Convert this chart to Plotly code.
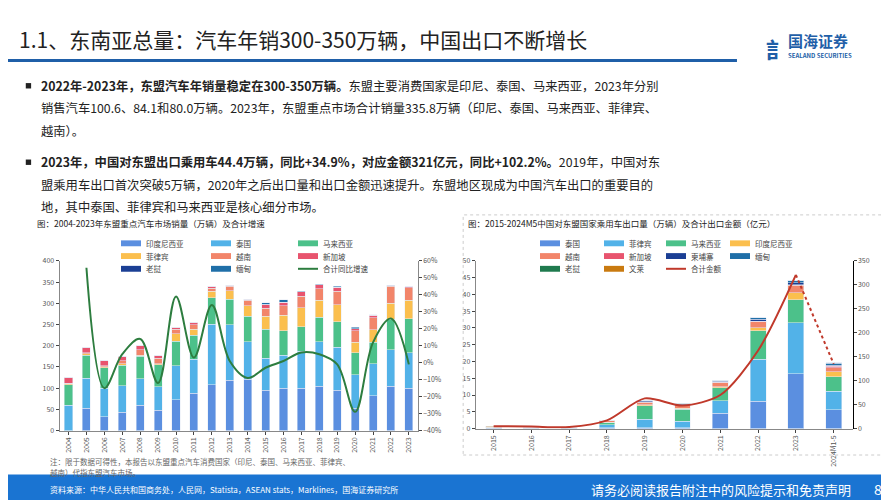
import plotly.graph_objects as go

# ---- left chart: ASEAN car sales (10k units) ----
years_l = [str(y) for y in range(2004, 2024)]
idn = [0, 53, 32, 43, 60, 48, 73, 88, 108, 118, 121, 95, 100, 100, 105, 95, 53, 82, 105, 100]
tha = [60, 70, 68, 63, 62, 55, 80, 80, 143, 132, 88, 75, 77, 87, 104, 101, 79, 76, 85, 84]
mys = [48, 55, 48, 48, 53, 52, 58, 57, 62, 60, 60, 69, 58, 58, 58, 60, 52, 50, 72, 80]
phl = [2, 3, 2, 3, 3, 3, 17, 14, 15, 20, 25, 30, 37, 45, 40, 41, 24, 30, 38, 43]
vnm = [2, 3, 3, 8, 12, 12, 11, 11, 8, 10, 13, 20, 22, 27, 27, 32, 27, 28, 40, 30]
sgp = [14, 12, 12, 10, 10, 6, 5, 5, 4, 3, 3, 8, 9, 10, 10, 9, 5, 6, 2, 2]
lao = [0, 0, 0, 0, 0, 0, 0, 0, 0, 0, 0, 0.5, 0, 0, 0, 0, 0, 0, 1, 0]
mmr = [0, 0, 0, 0, 0, 0, 0, 0, 0, 0, 0, 4, 5, 1, 1, 2, 4, 1, 0, 0]
growth = [None, 56, -15, 5, 14, -12, 39, 3, 34, 1, -9, -3, 1, 6, 5, -1, -29, 12, 26, -1]

# ---- right chart: China passenger car exports to ASEAN ----
years_r = ["2015", "2016", "2017", "2018", "2019", "2020", "2021", "2022", "2023", "2024M1-5"]
r_tha = [0.1, 0.05, 0.05, 0.2, 0.2, 0.2, 4.5, 8.2, 16.3, 5.6]
r_phl = [0.1, 0.05, 0.05, 0.9, 2.6, 2.0, 3.8, 12.5, 15.2, 5.6]
r_mys = [0.1, 0.05, 0.05, 0.6, 4.0, 3.5, 3.8, 8.5, 7.0, 4.2]
r_idn = [0.1, 0.05, 0.05, 0.2, 0.3, 0.3, 0.4, 0.8, 2.0, 1.6]
r_vnm = [0.1, 0.05, 0.05, 0.5, 0.8, 0.8, 1.2, 1.8, 2.2, 1.2]
r_sgp = [0, 0, 0, 0, 0.1, 0, 0.1, 0.2, 0.2, 0.4]
r_khm = [0, 0, 0, 0.05, 0.3, 0.3, 0.3, 0.6, 0.6, 0.3]
r_mmr = [0, 0, 0, 0.05, 0.2, 0.3, 0.3, 0.4, 0.8, 0.6]
r_lao = [0.1, 0, 0, 0, 0, 0.2, 0, 0, 0, 0.1]
r_brn = [0.1, 0, 0, 0, 0, 0, 0, 0, 0, 0]
amount = [5, 4, 3, 17, 63, 48, 70, 163, 321, 135]

C_ID, C_TH, C_MY, C_PH = "#5b8fe0", "#52b2e8", "#4cc18a", "#fbbf4e"
C_VN, C_SG, C_LA, C_MM = "#f2856a", "#e8546e", "#1b3f94", "#1f6fa8"
C_GROW, C_AMT = "#2d7d3f", "#c0392b"

left_series = [("印度尼西亚", idn, C_ID), ("泰国", tha, C_TH), ("马来西亚", mys, C_MY),
               ("菲律宾", phl, C_PH), ("越南", vnm, C_VN), ("新加坡", sgp, C_SG),
               ("老挝", lao, C_LA), ("缅甸", mmr, C_MM)]
right_series = [("泰国", r_tha, C_ID), ("菲律宾", r_phl, C_TH), ("马来西亚", r_mys, C_MY),
                ("印度尼西亚", r_idn, C_PH), ("越南", r_vnm, C_VN), ("新加坡", r_sgp, C_SG),
                ("柬埔寨", r_khm, C_LA), ("缅甸", r_mmr, C_MM), ("老挝", r_lao, "#1f7a4e"),
                ("文莱", r_brn, "#c97a10")]

fig = go.Figure()
for name, vals, col in left_series:
    fig.add_bar(x=years_l, y=vals, name=name, marker_color=col, xaxis="x", yaxis="y", width=0.45)
fig.add_scatter(x=years_l, y=growth, name="合计同比增速", mode="lines",
                line=dict(color=C_GROW, width=2, shape="spline"), xaxis="x", yaxis="y2")
for name, vals, col in right_series:
    fig.add_bar(x=years_r, y=vals, name=name, marker_color=col, xaxis="x3", yaxis="y3", width=0.42)
fig.add_scatter(x=years_r[:9], y=amount[:9], name="合计金额", mode="lines",
                line=dict(color=C_AMT, width=2, shape="spline", smoothing=0.8), xaxis="x3", yaxis="y4")
fig.add_scatter(x=years_r[8:], y=amount[8:], mode="lines",
                line=dict(color=C_AMT, width=2, dash="dot"), xaxis="x3", yaxis="y4")

tick = dict(size=7, color="#555")
shapes = [
    dict(type="line", xref="paper", yref="paper", x0=0, x1=0.82, y0=0.905, y1=0.905,
         line=dict(color="#1f5fa8", width=3)),
    dict(type="rect", xref="paper", yref="paper", x0=0, x1=1, y0=0, y1=0.06,
         fillcolor="#1a74d2", line=dict(width=0)),
    dict(type="rect", xref="paper", yref="paper", x0=0.512, x1=0.99, y0=0.1, y1=0.59,
         fillcolor="rgba(0,0,0,0)", line=dict(color="#ccc", width=1, dash="dot")),
    dict(type="rect", xref="paper", yref="paper", x0=0.02, x1=0.026, y0=0.848, y1=0.859,
         fillcolor="#222", line=dict(width=0)),
    dict(type="rect", xref="paper", yref="paper", x0=0.02, x1=0.026, y0=0.692, y1=0.703,
         fillcolor="#222", line=dict(width=0)),
]
annots = []

def txt(x, y, s, size=13, color="#222", xanchor="left"):
    annots.append(dict(x=x, y=y, xref="paper", yref="paper", text=s, showarrow=False,
                       xanchor=xanchor, yanchor="middle", font=dict(size=size, color=color)))

# hand-drawn legend grids
def legend_grid(items, cols_px, rows_px):
    for i, (name, col, kind) in enumerate(items):
        cx = cols_px[i % len(cols_px)] / 889
        cy = 1 - rows_px[i // len(cols_px)] / 500
        if kind == "bar":
            shapes.append(dict(type="rect", xref="paper", yref="paper", x0=cx, x1=cx + 20 / 889,
                               y0=cy - 3 / 500, y1=cy + 3 / 500, fillcolor=col, line=dict(width=0)))
        else:
            shapes.append(dict(type="line", xref="paper", yref="paper", x0=cx, x1=cx + 20 / 889,
                               y0=cy, y1=cy, line=dict(color=col, width=2)))
        txt(cx + 23 / 889, cy, name, size=7.5, color="#444")

legend_grid([(n, c, "bar") for n, _, c in left_series[:6]] + [("老挝", C_LA, "bar"), ("缅甸", C_MM, "bar"),
            ("合计同比增速", C_GROW, "line")], [113, 203, 290], [234, 247, 260])
legend_grid([(n, c, "bar") for n, _, c in right_series] + [("合计金额", C_AMT, "line")],
            [532, 596, 658, 722], [234, 247, 260])

txt(0.01, 0.95, "1.1、东南亚总量：汽车年销300-350万辆，中国出口不断增长", size=21)
txt(0.875, 0.945, "<b>国海证券</b>", size=15, color="#1f5fa8")
txt(0.875, 0.915, "<b>SEALAND SECURITIES</b>", size=6, color="#1f5fa8")
txt(0.85, 0.93, "<b>訁</b>", size=22, color="#1f5fa8")
txt(0.035, 0.853, "<b>2022年-2023年，东盟汽车年销量稳定在300-350万辆。</b>东盟主要消费国家是印尼、泰国、马来西亚，2023年分别", size=12.3)
txt(0.035, 0.808, "销售汽车100.6、84.1和80.0万辆。2023年，东盟重点市场合计销量335.8万辆（印尼、泰国、马来西亚、菲律宾、", size=12.3)
txt(0.035, 0.762, "越南）。", size=12.3)
txt(0.035, 0.697, "<b>2023年，中国对东盟出口乘用车44.4万辆，同比+34.9%，对应金额321亿元，同比+102.2%。</b>2019年，中国对东", size=12.3)
txt(0.035, 0.652, "盟乘用车出口首次突破5万辆，2020年之后出口量和出口金额迅速提升。东盟地区现成为中国汽车出口的重要目的", size=12.3)
txt(0.035, 0.606, "地，其中泰国、菲律宾和马来西亚是核心细分市场。", size=12.3)
txt(0.03, 0.573, "图：2004-2023年东盟重点汽车市场销量（万辆）及合计增速", size=8.5)
txt(0.515, 0.573, "图：2015-2024M5中国对东盟国家乘用车出口量（万辆）及合计出口金额（亿元）", size=8.5)
txt(0.045, 0.087, "注：限于数据可得性，本报告以东盟重点汽车消费国家（印尼、泰国、马来西亚、菲律宾、", size=7.5, color="#666")
txt(0.045, 0.065, "越南）代指东盟汽车市场。", size=7.5, color="#666")
txt(0.045, 0.03, "资料来源：中华人民共和国商务处，人民网，Statista，ASEAN stats，Marklines，国海证券研究所", size=8, color="white")
txt(0.95, 0.03, "请务必阅读报告附注中的风险提示和免责声明", size=13, color="white", xanchor="right")
txt(0.985, 0.03, "8", size=14, color="white", xanchor="right")

fig.update_layout(
    width=889, height=500, margin=dict(l=0, r=0, t=0, b=0), barmode="stack", showlegend=False,
    plot_bgcolor="white", paper_bgcolor="white",
    font=dict(family="Noto Sans CJK SC", color="#333"),
    xaxis=dict(domain=[0.058, 0.461], anchor="y", tickangle=-90, tickfont=tick, showline=True,
               linecolor="#888", ticks="outside", ticklen=3),
    yaxis=dict(domain=[0.15, 0.496], range=[0, 400], dtick=50, tickfont=tick, showline=True,
               linecolor="#888", showgrid=False, ticks="outside", ticklen=3),
    yaxis2=dict(overlaying="y", side="right", anchor="x", range=[-40, 60], dtick=10, ticksuffix="%",
                tickfont=tick, showline=True, linecolor="#888", showgrid=False, zeroline=False,
                ticks="outside", ticklen=3),
    xaxis3=dict(domain=[0.525, 0.95], anchor="y3", tickangle=-90, tickfont=tick, showline=True,
                linecolor="#888", ticks="outside", ticklen=3),
    yaxis3=dict(domain=[0.154, 0.496], anchor="free", position=0.525, range=[0, 50], dtick=5,
                tickfont=tick, showline=True, linecolor="#888", showgrid=False, ticks="outside", ticklen=3),
    yaxis4=dict(overlaying="y3", side="right", anchor="free", position=0.95, range=[0, 350], dtick=50,
                tickfont=tick, showline=True, linecolor="#000", showgrid=False, zeroline=False,
                ticks="outside", ticklen=3),
    shapes=shapes, annotations=annots,
)

fig.write_html("out.html")
